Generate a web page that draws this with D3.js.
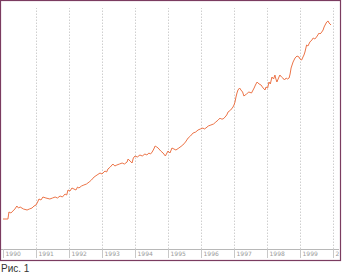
<!DOCTYPE html>
<html>
<head>
<meta charset="utf-8">
<script src="https://cdn.jsdelivr.net/npm/d3@7"></script>
<style>
  body { margin:0; background:#fff; }
  svg { display:block; }
</style>
</head>
<body>
<div id="chart"></div>
<script>
const W = 342, H = 274;
const margin = {left:3, right:9, top:8, bottom:25};

// year positions (fractional years) and index level
const years = [1990.00,1990.15,1990.18,1990.24,1990.30,1990.36,1990.42,1990.47,1990.52,1990.62,1990.73,1990.80,1990.88,
  1990.94,1991.00,1991.05,1991.09,1991.15,1991.21,1991.30,1991.42,1991.50,1991.58,1991.65,1991.73,1991.80,1991.88,
  1991.93,1991.97,1992.03,1992.09,1992.15,1992.21,1992.26,1992.30,1992.38,1992.45,1992.53,1992.61,1992.68,1992.76,
  1992.85,1992.94,1993.00,1993.09,1993.14,1993.18,1993.25,1993.33,1993.39,1993.45,1993.53,1993.61,1993.68,1993.76,
  1993.79,1993.85,1993.91,1993.95,1994.00,1994.07,1994.15,1994.22,1994.30,1994.36,1994.42,1994.47,1994.52,1994.57,
  1994.61,1994.66,1994.70,1994.78,1994.85,1994.92,1995.00,1995.06,1995.12,1995.18,1995.24,1995.33,1995.45,1995.53,
  1995.61,1995.68,1995.76,1995.84,1995.91,1995.98,1996.06,1996.10,1996.15,1996.22,1996.30,1996.38,1996.45,1996.52,
  1996.58,1996.61,1996.67,1996.73,1996.78,1996.82,1996.90,1996.97,1997.00,1997.03,1997.06,1997.09,1997.12,1997.17,
  1997.21,1997.26,1997.30,1997.38,1997.45,1997.53,1997.61,1997.65,1997.70,1997.76,1997.82,1997.86,1997.91,1997.94,
  1997.97,1998.02,1998.06,1998.10,1998.15,1998.20,1998.24,1998.27,1998.30,1998.35,1998.39,1998.44,1998.48,1998.53,
  1998.58,1998.62,1998.67,1998.70,1998.73,1998.79,1998.85,1998.91,1998.97,1999.00,1999.05,1999.09,1999.12,1999.15,
  1999.20,1999.24,1999.30,1999.36,1999.40,1999.45,1999.50,1999.54,1999.58,1999.61,1999.66,1999.70,1999.73,1999.76,
  1999.81,1999.85,1999.88,1999.91,1999.94,1999.97,2000.02,2000.06];
const values = [31,31,38,37,39,41,44,42,43,41,40,41,42,44,45,48,51,50,53,52,51,52,53,52,54,53,56,55,60,59,62,61,60,63,
  62,64,65,66,68,70,73,75,77,76,79,78,81,83,86,84,85,86,87,86,88,91,89,87,92,94,93,95,94,96,95,97,96,98,101,104,103,
  102,99,97,94,99,97,102,101,100,102,105,108,112,114,117,118,120,121,122,121,122,124,125,126,128,130,132,131,131,
  133,135,138,140,143,145,148,153,157,160,162,160,158,154,156,158,157,162,165,168,166,165,163,161,160,163,162,168,
  166,173,171,175,171,168,172,175,173,172,170,172,171,172,176,182,188,192,194,193,191,190,193,195,198,205,204,208,
  210,212,211,213,215,217,216,218,220,223,225,228,229,227,226,225];

const svg = d3.select("#chart").append("svg")
  .attr("width", W).attr("height", H);

const frameH = 260;
svg.append("defs").append("clipPath").attr("id","clip")
  .append("rect").attr("x",1).attr("y",1).attr("width",338).attr("height",frameH-1);

const x = d3.scaleLinear()
  .domain([1990, 2000])
  .range([margin.left, margin.left + 330]);
const y = d3.scaleLinear()
  .domain([0, 250])
  .range([250, 0]);
const axisY = 249;

const g = svg.append("g").attr("clip-path","url(#clip)");
const tickYears = d3.range(1990, 2001);

// dotted grid
g.append("g")
  .attr("transform", `translate(0,${axisY})`)
  .call(d3.axisBottom(x).tickValues(tickYears.slice(1)).tickSize(-(axisY - margin.top)).tickFormat(""))
  .call(a => a.select(".domain").remove())
  .call(a => a.selectAll("line").attr("stroke","#cfcfcf").attr("stroke-dasharray","1.5,1.5"));

// axis with ticks and labels
g.append("g")
  .attr("transform", `translate(0,${axisY})`)
  .call(d3.axisBottom(x).tickValues(tickYears).tickSize(9).tickFormat(d3.format("d")))
  .call(a => a.select(".domain").attr("stroke","#b8b8b8").attr("d", `M1,0.5H339`))
  .call(a => a.selectAll("line").attr("stroke","#c8c8c8"))
  .call(a => a.selectAll("text")
      .attr("text-anchor","start").attr("x",2).attr("y",3)
      .attr("fill","#9a9a9a").style("font-family","DejaVu Sans").style("font-size","6px"));

const line = d3.line()
  .x((d,i) => x(years[i]))
  .y(d => y(d));

g.append("path")
  .datum(values)
  .attr("fill","none")
  .attr("stroke","#ec7448")
  .attr("stroke-width",1)
  .attr("d", line);

// frame
svg.append("rect")
  .attr("x",0.5).attr("y",0.5).attr("width",340).attr("height",frameH)
  .attr("fill","none").attr("stroke","#7b3b60").attr("stroke-width",1.2);

svg.append("text")
  .attr("x",1).attr("y",272)
  .attr("fill","#333")
  .style("font-family","Liberation Sans, Arial")
  .style("font-size","10px")
  .text("Рис. 1");
</script>
</body>
</html>
